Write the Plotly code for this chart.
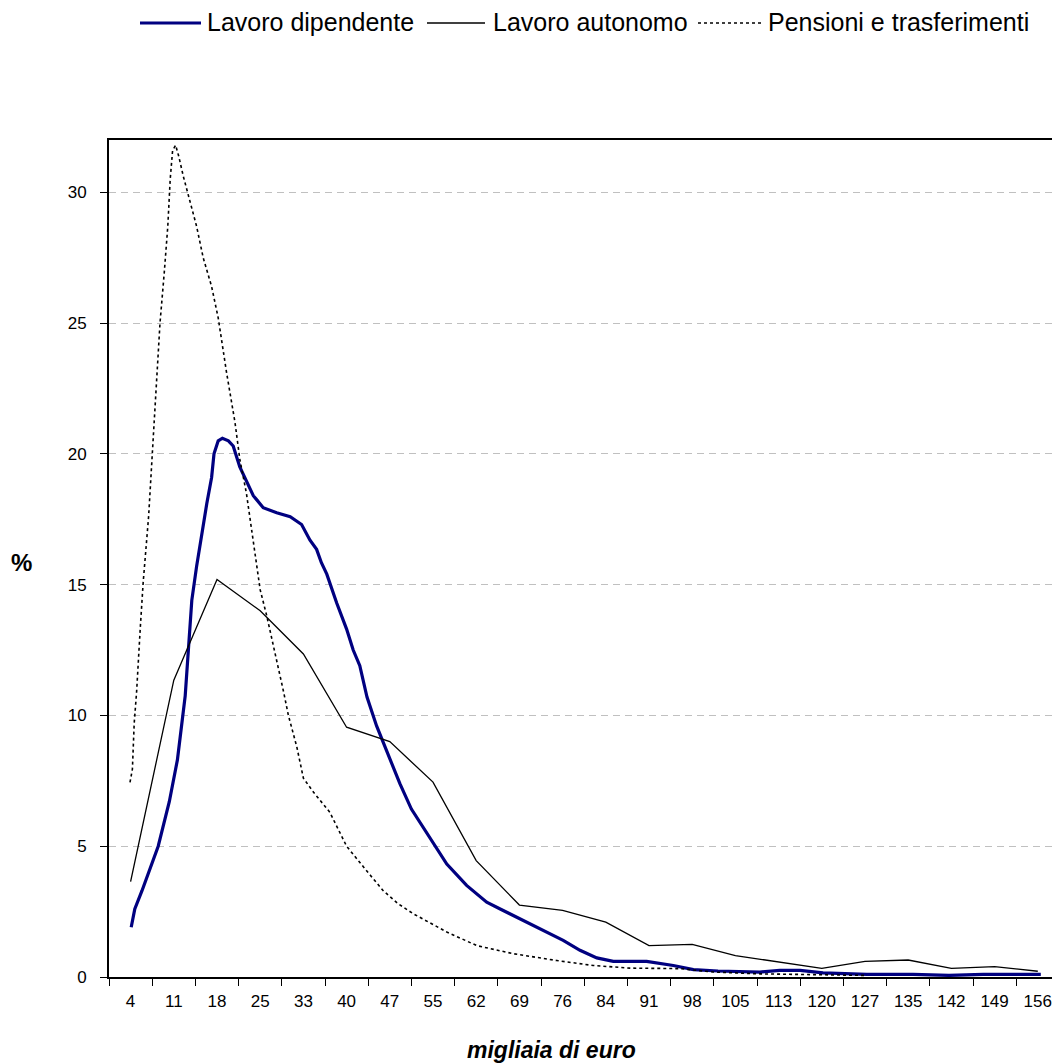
import plotly.graph_objects as go

# ---------------- data (x in migliaia di euro, y in %) ----------------
tick_labels = ["4", "11", "18", "25", "33", "40", "47", "55", "62", "69", "76",
               "84", "91", "98", "105", "113", "120", "127", "135", "142", "149", "156"]

# Lavoro autonomo: one value per class (class centres)
autonomo_x = [3.6, 10.8, 18.0, 25.2, 32.4, 39.6, 46.8, 54.0, 61.2, 68.4, 75.6,
              82.8, 90.0, 97.2, 104.4, 111.6, 118.8, 126.0, 133.2, 140.4, 147.6, 154.8]
autonomo_y = [3.65, 11.35, 15.2, 14.0, 12.35, 9.55, 9.0, 7.45, 4.45, 2.75, 2.55,
              2.1, 1.2, 1.25, 0.82, 0.57, 0.33, 0.6, 0.65, 0.33, 0.4, 0.22]

# Lavoro dipendente: fine-grained curve
dipendente_x = [3.7, 4.3, 5.5, 8.2, 10.05, 11.4, 12.7, 13.1, 13.8, 14.6, 15.45, 16.3,
                17.1, 17.5, 18.2, 18.9, 19.9, 20.7, 21.8, 22.95, 24.05, 24.6, 25.7,
                27.95, 30.2, 32.1, 33.5, 34.6, 35.4, 36.3, 37.95, 39.6, 40.7, 41.8,
                43.0, 44.6, 45.7, 47.1, 48.5, 50.4, 52.95, 56.3, 59.6, 62.95, 65.2,
                68.5, 71.8, 75.7, 78.5, 81.3, 84.05, 89.6, 94.05, 97.4, 101.5, 104.9,
                108.5, 111.8, 115.2, 119.0, 126.3, 134.0, 140.0, 145.7, 155.3]
dipendente_y = [1.9, 2.6, 3.3, 5.0, 6.7, 8.3, 10.75, 12.15, 14.4, 15.7, 17.0, 18.1,
                19.1, 20.0, 20.5, 20.6, 20.5, 20.3, 19.5, 18.95, 18.4, 18.25, 17.94,
                17.75, 17.6, 17.3, 16.7, 16.35, 15.84, 15.4, 14.3, 13.3, 12.5, 11.9,
                10.7, 9.6, 8.97, 8.2, 7.38, 6.42, 5.53, 4.32, 3.5, 2.86, 2.6,
                2.23, 1.84, 1.4, 1.02, 0.73, 0.6, 0.6, 0.44, 0.28, 0.23, 0.21,
                0.19, 0.25, 0.25, 0.16, 0.1, 0.1, 0.06, 0.1, 0.1]

# Pensioni e trasferimenti: fine-grained curve
pensioni_x = [3.5, 3.9, 4.2, 4.6, 5.2, 5.7, 6.6, 7.3, 8.5, 9.2, 9.8, 10.2, 10.6, 11.1,
              11.6, 12.4, 13.1, 14.6, 15.7, 17.1, 18.2, 19.6, 21.0, 21.8, 22.9, 24.1,
              25.2, 26.3, 27.7, 29.1, 29.9, 31.3, 32.4, 34.1, 36.8, 39.6, 42.9, 45.7,
              48.2, 50.7, 56.3, 61.3, 67.4, 74.6, 80.7, 86.8, 95.2, 100.7, 108.5, 126.2]
pensioni_y = [7.44, 7.95, 9.7, 10.9, 13.3, 15.1, 17.6, 20.2, 25.0, 26.9, 28.7, 30.5, 31.6, 31.8,
              31.4, 30.6, 30.0, 28.7, 27.5, 26.4, 25.2, 23.1, 21.2, 19.8, 18.5, 16.6,
              14.8, 13.8, 12.4, 10.9, 10.0, 8.8, 7.6, 7.06, 6.3, 5.0, 4.07, 3.3,
              2.8, 2.42, 1.72, 1.2, 0.89, 0.63, 0.44, 0.34, 0.32, 0.19, 0.12, 0.06]

series_names = ["Lavoro dipendente", "Lavoro autonomo", "Pensioni e trasferimenti"]

# ---------------- layout geometry ----------------
W, H = 1052, 1063
L, T, B = 109, 140, 977          # plot-area edges in px
PW, PH = W - L, B - T
CLASS_W = 7.2                     # width of one income class (k euro)
PX_PER_K = 6.0
x_max = PW / PX_PER_K

def px_x(px):
    return (px - L) / PW

def px_y(py):
    return (B - py) / PH

NAVY = "#000080"
FONT = "Liberation Sans, Arial, sans-serif"

fig = go.Figure()
fig.add_trace(go.Scatter(x=dipendente_x, y=dipendente_y, mode="lines", name=series_names[0],
                         line=dict(color=NAVY, width=3.2), showlegend=False))
fig.add_trace(go.Scatter(x=autonomo_x, y=autonomo_y, mode="lines", name=series_names[1],
                         line=dict(color="black", width=1.3), showlegend=False))
fig.add_trace(go.Scatter(x=pensioni_x, y=pensioni_y, mode="lines", name=series_names[2],
                         line=dict(color="black", width=1.6, dash="dot"), showlegend=False))

tickvals = [CLASS_W / 2 + CLASS_W * i for i in range(len(tick_labels))]

fig.update_layout(
    width=W, height=H,
    margin=dict(l=L, r=0, t=T, b=H - B, pad=0),
    paper_bgcolor="white", plot_bgcolor="white",
    font=dict(family=FONT, size=17, color="black"),
    showlegend=False,
    xaxis=dict(
        range=[0, x_max], tickmode="array", tickvals=tickvals, ticktext=tick_labels,
        ticks="", showgrid=False, zeroline=False,
        showline=True, linecolor="black", linewidth=2, mirror=True,
        tickfont=dict(size=17), ticklabelstandoff=8,
        minor=dict(tickmode="linear", tick0=0, dtick=CLASS_W, ticks="outside",
                   ticklen=7, tickcolor="black", tickwidth=1, showgrid=False),
    ),
    yaxis=dict(
        range=[0, 32], tickmode="linear", tick0=0, dtick=5,
        ticks="outside", ticklen=7, tickcolor="black", tickwidth=1,
        showgrid=True, gridcolor="#c0c0c0", griddash="7px,5px", gridwidth=1,
        zeroline=False, showline=True, linecolor="black", linewidth=2,
        tickfont=dict(size=17), ticklabelstandoff=10,
    ),
)

# axis titles
fig.add_annotation(text="<b>%</b>", xref="paper", yref="paper", x=px_x(21), y=px_y(562),
                   showarrow=False, font=dict(size=24, family=FONT), xanchor="center", yanchor="middle")
fig.add_annotation(text="<b><i>migliaia di euro</i></b>", xref="paper", yref="paper",
                   x=px_x(551), y=px_y(1050), showarrow=False,
                   font=dict(size=23, family=FONT), xanchor="center", yanchor="middle")

# legend (drawn manually to reproduce long sample lines)
leg_y = 23
legend_items = [
    (140, 201, dict(color=NAVY, width=3.2), 205),
    (427, 485, dict(color="black", width=1.3), 491),
    (698, 763, dict(color="black", width=1.6, dash="dot"), 766),
]
for (x0, x1, ln, tx), name in zip(legend_items, series_names):
    fig.add_shape(type="line", xref="paper", yref="paper",
                  x0=px_x(x0), x1=px_x(x1), y0=px_y(leg_y), y1=px_y(leg_y), line=ln)
    fig.add_annotation(text=name, xref="paper", yref="paper", x=px_x(tx), y=px_y(leg_y - 1),
                       showarrow=False, xanchor="left", yanchor="middle",
                       font=dict(size=25, family=FONT))

fig.write_html("out.html")
